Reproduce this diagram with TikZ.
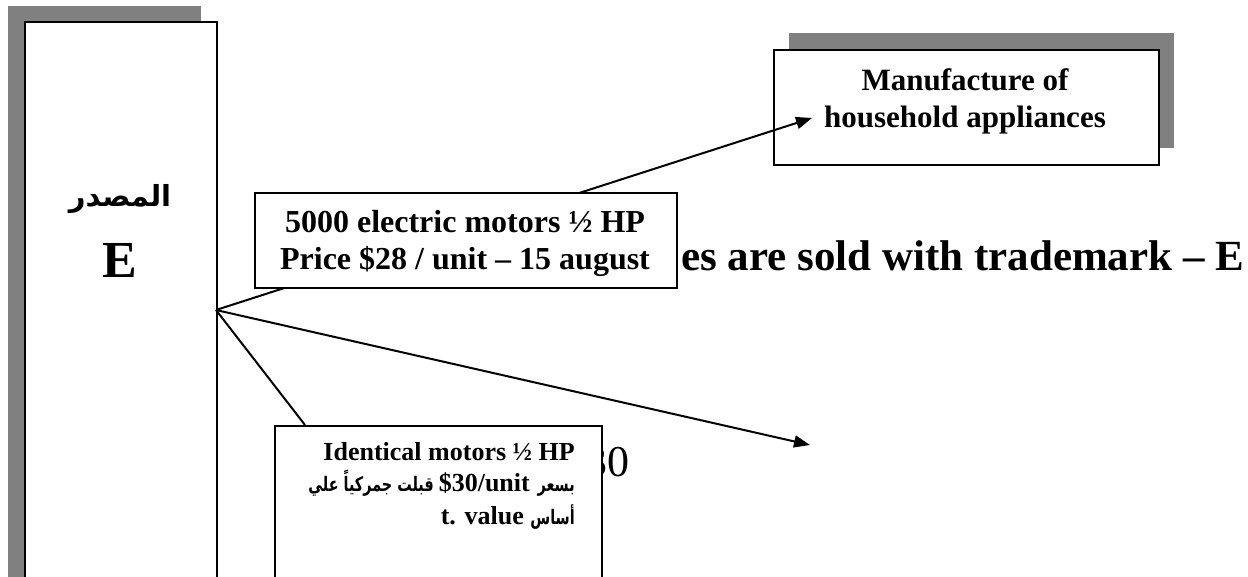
\documentclass[tikz,border=0pt]{standalone}
\usepackage{fontspec}
\setmainfont{Liberation Serif}
\newfontfamily\arabicfont[Script=Arabic]{DejaVu Sans}
\newfontfamily\arabicnarrow[Script=Arabic, FakeStretch=0.72]{DejaVu Sans}
\TeXXeTstate=1
\usetikzlibrary{arrows.meta}
\definecolor{shadowgray}{HTML}{808080}
\tikzset{
  boxstyle/.style={draw=black, line width=2pt, fill=white, inner sep=0pt},
  shadowbox/.style={fill=shadowgray, draw=none, inner sep=0pt},
  conn/.style={line width=2pt, draw=black},
  arr/.style={conn, -{Triangle[length=16pt,width=12pt]}},
  txt/.style={inner sep=0pt, anchor=base},
  bigtxt/.style={txt, font=\bfseries\fontsize{32}{37}\selectfont},
  smalltxt/.style={txt, font=\bfseries\fontsize{26}{30}\selectfont},
  artxt/.style={txt, font=\arabicnarrow\bfseries\fontsize{20}{24}\selectfont},
}
\begin{document}
\begin{tikzpicture}[x=1pt,y=-1pt]
\path[use as bounding box, clip] (0,0) rectangle (1248,576);
% shadows
\node[shadowbox, anchor=north west, minimum width=193pt, minimum height=600pt] (srcshadow) at (8,6) {};
\node[shadowbox, anchor=north west, minimum width=385pt, minimum height=115pt] (mfgshadow) at (789,33) {};
% source box
\node[boxstyle, anchor=north west, minimum width=192pt, minimum height=600pt] (src) at (24,21) {};
\node[txt, font=\arabicfont\bfseries\fontsize{29}{32}\selectfont] (srcar) at (120,206) {\beginR المصدر\endR};
\node[txt, font=\bfseries\fontsize{52}{56}\selectfont] (srcE) at (120,277) {E};
% manufacturer box
\node[boxstyle, anchor=north west, minimum width=385pt, minimum height=115pt] (mfg) at (773,49) {};
\node[txt, font=\bfseries\fontsize{31}{37}\selectfont] (mfgA) at (965,90) {Manufacture of};
\node[txt, font=\bfseries\fontsize{31}{37}\selectfont] (mfgB) at (965,127) {household appliances};
% coordinates
\coordinate (hub) at (216,310);
\coordinate (mfgin) at (812,118);
\coordinate (sale) at (810,445);
% background texts
\node[txt, anchor=base west, font=\bfseries\fontsize{43}{48}\selectfont] (trade) at (681,270) {es are sold with trademark – E};
\node[txt, anchor=base west, font=\fontsize{44}{50}\selectfont] (thirty) at (585,476) {30};
% connectors
\draw[arr] (hub) -- (mfgin);
\draw[arr] (hub) -- (sale);
\draw[conn] (hub) -- ([xshift=31pt]274,425);
% motors box
\node[boxstyle, anchor=north west, minimum width=422pt, minimum height=95pt] (motors) at (254,192) {};
\node[bigtxt] (motA) at (465,232) {5000 electric motors ½ HP};
\node[bigtxt] (motB) at (465,269) {Price \$28 / unit – 15 august};
% identical box
\node[boxstyle, anchor=north west, minimum width=327pt, minimum height=175pt] (ident) at (274,425) {};
\node[smalltxt, anchor=base east] (idA) at (575,460) {Identical motors ½ HP};
\node[artxt, anchor=base east] (idB1) at (575,491) {\beginR بسعر\endR};
\node[smalltxt, anchor=base east] (idB2) at (530,491) {\$30/unit};
\node[artxt, anchor=base east] (idB3) at (434,491) {\beginR قبلت جمركياً علي\endR};
\node[artxt, anchor=base east] (idC1) at (575,524) {\beginR أساس\endR};
\node[smalltxt, anchor=base east] (idC2) at (524,524) {t. value};
\end{tikzpicture}
\end{document}
